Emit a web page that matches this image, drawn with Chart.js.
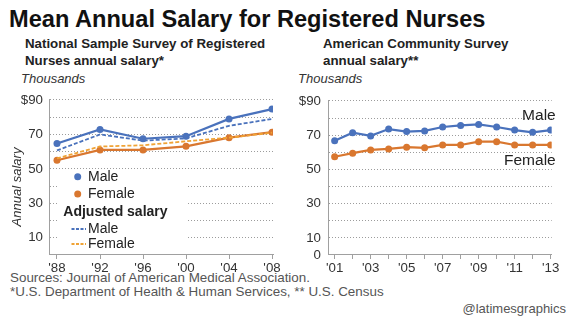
<!DOCTYPE html>
<html>
<head>
<meta charset="utf-8">
<script src="https://cdn.jsdelivr.net/npm/chart.js@4/dist/chart.umd.min.js"></script>
<style>
  html, body { margin: 0; padding: 0; background: #fff; }
  body { width: 576px; height: 324px; position: relative; overflow: hidden;
         font-family: "Liberation Sans", Arial, sans-serif; color: #111; }
  .t { position: absolute; white-space: nowrap; line-height: 1; }
  canvas { position: absolute; }
</style>
</head>
<body>
<div class="t" style="left:9px; top:7.5px; font-size:23.6px; font-weight:bold;">Mean Annual Salary for Registered Nurses</div>
<div class="t" style="left:25px; top:37.3px; font-size:13.3px; font-weight:bold; color:#222;">National Sample Survey of Registered</div>
<div class="t" style="left:25px; top:53.8px; font-size:13.3px; font-weight:bold; color:#222;">Nurses annual salary*</div>
<div class="t" style="left:323px; top:37.3px; font-size:13.3px; font-weight:bold; color:#222;">American Community Survey</div>
<div class="t" style="left:323px; top:53.8px; font-size:13.3px; font-weight:bold; color:#222;">annual salary**</div>
<div class="t" style="left:21px; top:72px; font-size:13px; font-style:italic; color:#333;">Thousands</div>
<div class="t" style="left:298px; top:72px; font-size:13px; font-style:italic; color:#333;">Thousands</div>
<div class="t" style="left:10px; top:271.3px; font-size:13.4px; color:#555;">Sources: Journal of American Medical Association.</div>
<div class="t" style="left:10px; top:284.8px; font-size:13.4px; color:#555;">*U.S. Department of Health &amp; Human Services, ** U.S. Census</div>
<div class="t" style="right:10px; top:302px; font-size:13px; color:#555;">@latimesgraphics</div>

<canvas id="nssrn" width="290" height="194" style="left:0; top:86px;"></canvas>
<canvas id="acs" width="286" height="194" style="left:290px; top:86px;"></canvas>

<script>
// National Sample Survey of Registered Nurses (thousands of dollars)
const nssrnYears = [1988, 1992, 1996, 2000, 2004, 2008];
const nssrnMale = [64.7, 72.9, 67.5, 69.0, 79.0, 84.7];
const nssrnFemale = [55.0, 61.0, 61.0, 63.1, 68.1, 71.3];
const nssrnMaleAdjusted = [60.7, 70.0, 66.4, 67.7, 75.0, 79.0];
const nssrnFemaleAdjusted = [56.1, 63.0, 63.7, 66.0, 68.1, 71.0];

// American Community Survey (thousands of dollars)
const acsYears = [2001, 2002, 2003, 2004, 2005, 2006, 2007, 2008, 2009, 2010, 2011, 2012, 2013];
const acsMale = [66.7, 71.5, 69.6, 73.6, 72.1, 72.5, 74.8, 75.7, 76.3, 74.8, 73.0, 71.7, 73.0];
const acsFemale = [57.4, 59.5, 61.4, 62.0, 63.0, 62.6, 64.3, 64.3, 66.2, 66.2, 64.3, 64.3, 64.3];

// Axis ticks
const yTickValues = [0, 10, 20, 30, 40, 50, 60, 70, 80, 90];
const yLabeledLeft = [90, 70, 50, 30, 10];
const yLabeledRight = [90, 70, 50, 30, 10, 0];
const nssrnTickYears = [1988, 1992, 1996, 2000, 2004, 2008];
const acsLabeledYears = [2001, 2003, 2005, 2007, 2009, 2011, 2013];

const BLUE = '#4a72bc';
const ORANGE = '#d9772f';
const LIGHT_ORANGE = '#f0a335';
const FONT = '"Liberation Sans", Arial, sans-serif';

Chart.defaults.font.family = FONT;
Chart.defaults.color = '#333';
Chart.defaults.animation = false;

const pts = (xs, ys) => xs.map((x, i) => ({ x: x, y: ys[i] }));
const shortYear = v => "'" + String(v).slice(2);

function yScale(labeled, width, pad) {
  return {
    min: 0, max: 90,
    afterBuildTicks: s => { s.ticks = yTickValues.map(v => ({ value: v })); },
    afterFit: s => { s.width = width; },
    ticks: {
      autoSkip: false,
      padding: pad,
      font: { size: 13.3 },
      color: '#333',
      callback: v => labeled.includes(v) ? (v === 90 ? '$90' : String(v)) : ''
    },
    grid: { color: '#9c9c9c', lineWidth: 1, drawTicks: false },
    border: { display: true, color: '#a0a0a0', width: 1, dash: [1, 2] }
  };
}

function xScale(min, max, tickYears, labeled) {
  return {
    type: 'linear', min: min, max: max,
    afterBuildTicks: s => { s.ticks = tickYears.map(v => ({ value: v })); },
    afterFit: s => { s.height = 25; },
    ticks: {
      autoSkip: false, maxRotation: 0, padding: 1,
      font: { size: 13.3 },
      color: '#333',
      callback: v => labeled.includes(v) ? shortYear(v) : ''
    },
    grid: { drawOnChartArea: false, drawTicks: true, tickLength: 4, color: '#a0a0a0' },
    border: { display: true, color: '#a0a0a0', width: 1 }
  };
}

function solid(label, data, color) {
  return { label, data, borderColor: color, backgroundColor: color, borderWidth: 2.2,
           pointRadius: 3.5, pointHoverRadius: 3.5, pointBorderWidth: 0, tension: 0 };
}
function dashed(label, data, color) {
  return { label, data, borderColor: color, borderWidth: 1.8, borderDash: [4, 2],
           pointRadius: 0, tension: 0 };
}

// Left panel: legend box drawn inside the plot plus the rotated axis caption
const nssrnDecor = {
  id: 'nssrnDecor',
  beforeDatasetsDraw(chart) {
    const c = chart.ctx;
    c.save();
    c.fillStyle = '#fff';
    c.fillRect(59, 86, 127, 79);
    c.textBaseline = 'middle';
    c.font = '14px ' + FONT;
    c.fillStyle = '#222';
    [[BLUE, 'Male', 90.7], [ORANGE, 'Female', 108]].forEach(([col, txt, y]) => {
      c.beginPath(); c.fillStyle = col; c.arc(77.7, y, 3.5, 0, Math.PI * 2); c.fill();
      c.fillStyle = '#222'; c.fillText(txt, 88, y);
    });
    c.font = 'bold 14px ' + FONT;
    c.fillText('Adjusted salary', 63.3, 125.7);
    c.font = '14px ' + FONT;
    [[BLUE, 'Male', 143], [LIGHT_ORANGE, 'Female', 158]].forEach(([col, txt, y]) => {
      c.beginPath(); c.strokeStyle = col; c.lineWidth = 1.8; c.setLineDash([3, 1.5]);
      c.moveTo(71.5, y); c.lineTo(86, y); c.stroke(); c.setLineDash([]);
      c.fillStyle = '#222'; c.fillText(txt, 88, y);
    });
    c.restore();
  },
  afterDraw(chart) {
    const c = chart.ctx;
    c.save();
    c.translate(17, 101);
    c.rotate(-Math.PI / 2);
    c.font = 'italic 13px ' + FONT;
    c.fillStyle = '#333';
    c.textAlign = 'center';
    c.textBaseline = 'middle';
    c.fillText('Annual salary', 0, 0);
    c.restore();
  }
};

// Right panel: series names placed next to the end of each line
const acsDecor = {
  id: 'acsDecor',
  afterDatasetsDraw(chart) {
    const c = chart.ctx;
    const ys = chart.scales.y;
    const right = chart.chartArea.right + 4;
    c.save();
    c.font = '15.5px ' + FONT;
    c.fillStyle = '#222';
    c.textAlign = 'right';
    c.textBaseline = 'middle';
    c.fillText('Male', right, ys.getPixelForValue(acsMale[acsMale.length - 1]) - 14);
    c.fillText('Female', right, ys.getPixelForValue(acsFemale[acsFemale.length - 1]) + 16);
    c.restore();
  }
};

new Chart(document.getElementById('nssrn'), {
  type: 'line',
  data: {
    datasets: [
      dashed('Male adjusted', pts(nssrnYears, nssrnMaleAdjusted), BLUE),
      dashed('Female adjusted', pts(nssrnYears, nssrnFemaleAdjusted), LIGHT_ORANGE),
      solid('Male', pts(nssrnYears, nssrnMale), BLUE),
      solid('Female', pts(nssrnYears, nssrnFemale), ORANGE)
    ]
  },
  options: {
    responsive: false, devicePixelRatio: 1,
    layout: { padding: { top: 10, right: 17, left: 0, bottom: 0 } },
    plugins: { legend: { display: false }, tooltip: { enabled: false } },
    scales: {
      x: xScale(1987.256, 2008.09, nssrnTickYears, nssrnTickYears),
      y: yScale(yLabeledLeft, 49, 6)
    }
  },
  plugins: [nssrnDecor]
});

new Chart(document.getElementById('acs'), {
  type: 'line',
  data: {
    datasets: [
      solid('Male', pts(acsYears, acsMale), BLUE),
      solid('Female', pts(acsYears, acsFemale), ORANGE)
    ]
  },
  options: {
    responsive: false, devicePixelRatio: 1,
    layout: { padding: { top: 10, right: 24.3, left: 0, bottom: 0 } },
    plugins: { legend: { display: false }, tooltip: { enabled: false } },
    scales: {
      x: xScale(2000.63, 2013.06, acsYears, acsLabeledYears),
      y: yScale(yLabeledRight, 38, 7)
    }
  },
  plugins: [acsDecor]
});
</script>
</body>
</html>
